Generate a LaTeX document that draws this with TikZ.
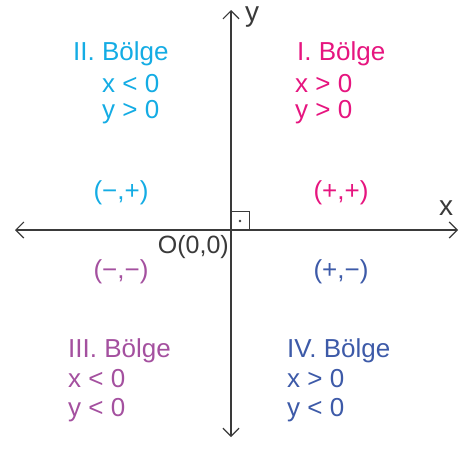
\documentclass[tikz,border=0pt]{standalone}
\usepackage{fontspec}
\setmainfont{Liberation Sans}
\usetikzlibrary{arrows.meta}
\definecolor{qone}{HTML}{E6157F}
\definecolor{qtwo}{HTML}{14ACE4}
\definecolor{qthree}{HTML}{A4509F}
\definecolor{qfour}{HTML}{3D5AA8}
\definecolor{axisgray}{HTML}{3A3A3A}
\begin{document}
\begin{tikzpicture}[x=1pt,y=-1pt,
  lbl/.style={inner sep=0pt, anchor=base west, font=\fontsize{26}{26}\selectfont},
  sgn/.style={inner sep=0pt, anchor=base, font=\fontsize{26}{26}\selectfont},
  axlbl/.style={inner sep=0pt, anchor=base west, text=axisgray, font=\fontsize{28}{28}\selectfont},
  axis/.style={draw=axisgray, line width=1.2pt, {Straight Barb[length=8pt,width=16pt]}-{Straight Barb[length=8pt,width=16pt]}}]
\useasboundingbox (0,0) rectangle (465,448);
\coordinate (O) at (231,230);
\coordinate (yt) at (231,10);
\coordinate (yb) at (231,437);
\coordinate (xl) at (15,230);
\coordinate (xr) at (458,230);
\draw[axis] (yb) -- (yt);
\draw[axis] (xl) -- (xr);
\coordinate (s1) at (231,211);
\coordinate (s2) at (249,211);
\coordinate (s3) at (249,230);
\draw[axisgray, line width=0.8pt] (s1) -- (s2) -- (s3);
\fill[axisgray] (240,221) circle (1.4pt);
\node[axlbl] (ylab) at (245,21) {y};
\node[axlbl] (xlab) at (439,215) {x};
\node[inner sep=0pt, anchor=base east, text=axisgray, font=\fontsize{25}{25}\selectfont] (orig) at (229,253) {O(0,0)};
% Quadrant I
\node[lbl, text=qone] (b1) at (297,60) {I. Bölge};
\node[lbl, text=qone] (b1x) at (295,92) {x > 0};
\node[lbl, text=qone] (b1y) at (295,118) {y > 0};
\node[sgn, text=qone] (p1) at (341,199) {(+,+)};
% Quadrant II
\node[lbl, text=qtwo] (b2) at (73,60) {II. Bölge};
\node[lbl, text=qtwo] (b2x) at (102,92) {x < 0};
\node[lbl, text=qtwo] (b2y) at (102,118) {y > 0};
\node[sgn, text=qtwo] (p2) at (121,199) {(−,+)};
% Quadrant III
\node[lbl, text=qthree] (b3) at (68,357) {III. Bölge};
\node[lbl, text=qthree] (b3x) at (68,387) {x < 0};
\node[lbl, text=qthree] (b3y) at (68,416) {y < 0};
\node[sgn, text=qthree] (p3) at (121,278) {(−,−)};
% Quadrant IV
\node[lbl, text=qfour] (b4) at (287,357) {IV. Bölge};
\node[lbl, text=qfour] (b4x) at (287,387) {x > 0};
\node[lbl, text=qfour] (b4y) at (287,416) {y < 0};
\node[sgn, text=qfour] (p4) at (341,278) {(+,−)};
\end{tikzpicture}
\end{document}
